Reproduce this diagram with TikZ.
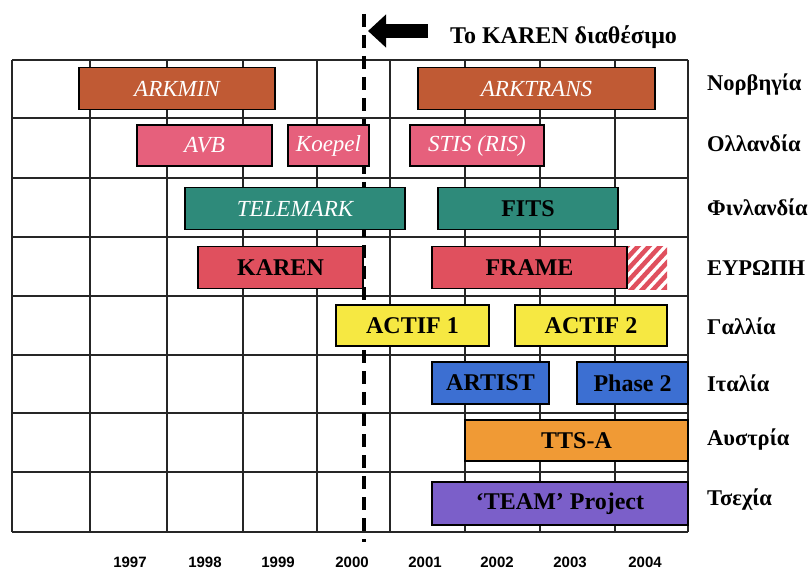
\documentclass[tikz,border=0pt]{standalone}
\usepackage{fontspec}
\setmainfont{Liberation Serif}
\setsansfont{Liberation Sans}
\usepackage{tikz}
\usetikzlibrary{arrows.meta}
\usepackage{xcolor}

\definecolor{armbrown}{RGB}{192,90,52}
\definecolor{nlpink}{RGB}{230,96,124}
\definecolor{fiteal}{RGB}{46,138,122}
\definecolor{eured}{RGB}{224,80,94}
\definecolor{fryellow}{RGB}{246,232,66}
\definecolor{itblue}{RGB}{60,111,210}
\definecolor{atorange}{RGB}{240,154,53}
\definecolor{czpurple}{RGB}{123,95,201}

\begin{document}
\begin{tikzpicture}[x=1pt, y=-1pt,
        bar/.style={draw=black, line width=1.6pt, minimum height=42pt, inner sep=0pt},
        oldproj/.style={bar, text=white, font=\itshape\fontsize{23}{25}\selectfont},
        newproj/.style={bar, text=black, font=\bfseries\fontsize{24}{26}\selectfont},
        country/.style={anchor=west, inner sep=0pt, font=\bfseries\fontsize{22.5}{24}\selectfont},
        yearlab/.style={inner sep=0pt, font=\sffamily\bfseries\fontsize{15}{17}\selectfont},
        gridline/.style={line width=1.3pt, black!85},
        karenline/.style={line width=4pt, dash pattern=on 13pt off 8pt}]
        \useasboundingbox[fill=white] (0,0) rectangle (810,569);

        % Grid
        \foreach \x in {12,90,167,243,317,390,465,540,615,688}
            \draw[gridline] (\x,60) -- (\x,532);
        \foreach \y in {60,118,178,237,296,355,413,472,532}
            \draw[gridline] (12,\y) -- (688,\y);

        % KAREN available
        \coordinate (ktop) at (364,14);
        \coordinate (kbot) at (364,542);
        \draw[karenline] (ktop) -- (kbot);
        \node[anchor=west, inner sep=0pt, font=\bfseries\fontsize{24}{26}\selectfont] (title) at (450,37) {Το KAREN διαθέσιμο};
        \coordinate (arrowtail) at (428,31);
        \coordinate (arrowtip) at (368,31);
        \draw[line width=14pt, -{Triangle[length=18pt, width=32pt]}] (arrowtail) -- (arrowtip);

        % Norway
        \node[oldproj, fill=armbrown, minimum width=196pt] (arkmin) at (177,88.5) {ARKMIN};
        \node[oldproj, fill=armbrown, minimum width=237pt] (arktrans) at (536.5,88.5) {ARKTRANS};

        % Netherlands
        \node[oldproj, fill=nlpink, minimum width=135pt, minimum height=41pt] (avb) at (204.5,145.5) {AVB};
        \node[oldproj, fill=nlpink, minimum width=81pt, minimum height=41pt] (koepel) at (328.5,145.5) {Koepel};
        \node[oldproj, fill=nlpink, minimum width=134pt, minimum height=41pt] (stis) at (477,145.5) {STIS (RIS)};

        % Finland
        \node[oldproj, fill=fiteal, minimum width=220pt] (telemark) at (295,208.5) {TELEMARK};
        \node[newproj, fill=fiteal, minimum width=180pt] (fits) at (528,208.5) {FITS};

        % Europe
        \node[newproj, fill=eured, minimum width=165pt] (karen) at (280.5,267.5) {KAREN};
        \node[newproj, fill=eured, minimum width=195pt] (frame) at (529.5,267.5) {FRAME};
        \begin{scope}
            \clip (628,246) rectangle (667,289);
            \foreach \i in {0,...,8}
                \draw[eured, line width=4.5pt] (585+\i*11,292) -- (630+\i*11,243);
        \end{scope}

        % France
        \node[newproj, fill=fryellow, minimum width=153pt, minimum height=41pt] (actif1) at (412.5,325.5) {ACTIF 1};
        \node[newproj, fill=fryellow, minimum width=152pt, minimum height=41pt] (actif2) at (591,325.5) {ACTIF 2};

        % Italy
        \node[newproj, fill=itblue, minimum width=117pt] (artist) at (490.5,383) {ARTIST};
        \node[newproj, fill=itblue, minimum width=111pt] (phase2) at (632.5,383) {Phase 2};

        % Austria
        \node[newproj, fill=atorange, minimum width=223pt, minimum height=41pt] (ttsa) at (576.5,440.5) {TTS-A};

        % Czech Republic
        \node[newproj, fill=czpurple, minimum width=256pt, minimum height=43pt] (team) at (560,503.5) {‘TEAM’ Project};

        % Countries
        \node[country] (no) at (707,85)  {Νορβηγία};
        \node[country] (nl) at (707,143) {Ολλανδία};
        \node[country] (fi) at (707,207) {Φινλανδία};
        \node[country] (eu) at (707,268) {ΕΥΡΩΠΗ};
        \node[country] (fr) at (707,326) {Γαλλία};
        \node[country] (it) at (707,383) {Ιταλία};
        \node[country] (at) at (707,440) {Αυστρία};
        \node[country] (cz) at (707,500) {Τσεχία};

        % Years
        \foreach \yr/\x in {1997/130,1998/205,1999/278,2000/352,2001/425,2002/497,2003/570,2004/645}
            \node[yearlab] (y\yr) at (\x,562) {\yr};
\end{tikzpicture}
\end{document}
